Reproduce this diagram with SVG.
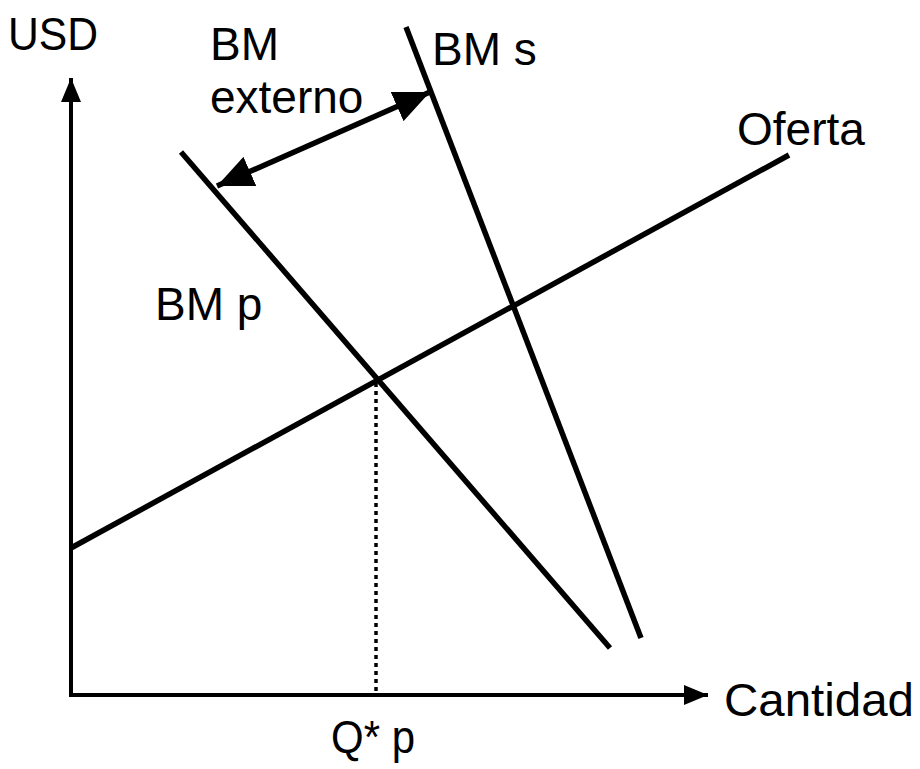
<svg xmlns="http://www.w3.org/2000/svg" width="920" height="769" viewBox="0 0 920 769">
<defs>
<style>
.t{font-family:"Liberation Sans",Arial,sans-serif;font-size:46px;fill:#000}
.ln{stroke:#000;stroke-width:5.5;fill:none;stroke-linecap:butt}
.ax{stroke:#000;stroke-width:4;fill:none}
</style>
<marker id="ah" markerUnits="userSpaceOnUse" markerWidth="24" markerHeight="20" viewBox="0 0 24 20" refX="24" refY="10" orient="auto-start-reverse">
<path d="M0,0 L24,10 L0,20 Z" fill="#000"/>
</marker>
<marker id="big" markerUnits="userSpaceOnUse" markerWidth="36" markerHeight="32" viewBox="0 0 36 32" refX="36" refY="16" orient="auto-start-reverse">
<path d="M0,0 L36,16 L0,32 Z" fill="#000"/>
</marker>
</defs>
<rect width="920" height="769" fill="#fff"/>
<g id="axes">
<line class="ax" x1="71" y1="697" x2="71" y2="78" marker-end="url(#ah)"/>
<line class="ax" x1="69" y1="695" x2="708" y2="695" marker-end="url(#ah)"/>
</g>
<g id="connectors">
<line id="oferta-line" class="ln" x1="71" y1="548" x2="789" y2="155"/>
<line id="bmp-line" class="ln" x1="181" y1="152" x2="610" y2="648"/>
<line id="bms-line" class="ln" x1="406" y1="27" x2="641" y2="638"/>
<line id="qp-dotted" x1="376" y1="383" x2="376" y2="693" stroke="#000" stroke-width="3.5" stroke-dasharray="4,4"/>
<line id="externo-arrow" class="ln" x1="217" y1="186" x2="430" y2="92" marker-start="url(#big)" marker-end="url(#big)"/>
</g>
<g id="labels">
<text class="t" x="8" y="50" textLength="90" lengthAdjust="spacingAndGlyphs">USD</text>
<text class="t" x="210" y="60">BM</text>
<text class="t" x="210" y="113">externo</text>
<text class="t" x="432" y="65">BM s</text>
<text class="t" x="737" y="145">Oferta</text>
<text class="t" x="155" y="320">BM p</text>
<text class="t" x="724" y="716" textLength="190" lengthAdjust="spacingAndGlyphs">Cantidad</text>
<text class="t" x="331" y="753" textLength="84" lengthAdjust="spacingAndGlyphs">Q* p</text>
</g>
</svg>
